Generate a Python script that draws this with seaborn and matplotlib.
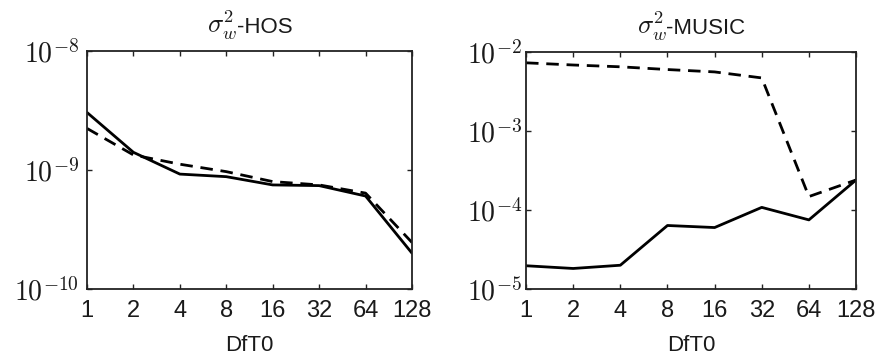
import numpy as np
import pandas as pd
import matplotlib
matplotlib.use("Agg")
import matplotlib.pyplot as plt
import matplotlib.ticker as mticker
from matplotlib.offsetbox import TextArea, HPacker, AnchoredOffsetbox
import seaborn as sns

dft0 = [1, 2, 4, 8, 16, 32, 64, 128]
hos_solid = [3.05e-9, 1.41e-9, 9.25e-10, 8.8e-10, 7.5e-10, 7.4e-10, 6.05e-10, 2.0e-10]
hos_dashed = [2.24e-9, 1.34e-9, 1.12e-9, 9.7e-10, 8.0e-10, 7.5e-10, 6.4e-10, 2.46e-10]
music_solid = [1.97e-5, 1.82e-5, 2.0e-5, 6.37e-5, 6.0e-5, 1.08e-4, 7.5e-5, 2.4e-4]
music_dashed = [7.3e-3, 6.85e-3, 6.5e-3, 6.0e-3, 5.6e-3, 4.7e-3, 1.48e-4, 2.4e-4]
title_math = r"$\sigma_w^2$"
title_names = ["-HOS", "-MUSIC"]
xlabel = "DfT0"

sns.set_style("ticks")
plt.rcParams["font.family"] = ["Liberation Sans", "DejaVu Sans"]
plt.rcParams["mathtext.fontset"] = "cm"

fig = plt.figure(figsize=(8.77, 3.61), dpi=100)
ax1 = fig.add_axes([0.0992, 0.1994, 0.3706, 0.659])
ax2 = fig.add_axes([0.5998, 0.1994, 0.3763, 0.6565])

def make_df(solid, dashed):
    return pd.DataFrame({
        "x": dft0 * 2,
        "y": list(solid) + list(dashed),
        "series": ["solid"] * len(dft0) + ["dashed"] * len(dft0),
    })

def pow_fmt(v, p):
    e = int(round(np.log10(v)))
    return r"$10^{%d}$" % e

panels = [
    (ax1, make_df(hos_solid, hos_dashed), (1e-10, 1e-8), [1e-10, 1e-9, 1e-8], 6),
    (ax2, make_df(music_solid, music_dashed), (1e-5, 1e-2), [1e-5, 1e-4, 1e-3, 1e-2], 3),
]

for (ax, df, ylim, yticks, ypad), name in zip(panels, title_names):
    sns.lineplot(data=df, x="x", y="y", hue="series", style="series",
                 palette={"solid": "black", "dashed": "black"},
                 dashes={"solid": "", "dashed": (4.5, 2.8)},
                 linewidth=2.0, legend=False, ax=ax)
    ax.set_xscale("log", base=2)
    ax.set_yscale("log")
    ax.set_xlim(1, 128)
    ax.set_ylim(*ylim)
    ax.set_xticks(dft0)
    ax.xaxis.set_major_formatter(mticker.FuncFormatter(lambda v, p: f"{int(round(v))}"))
    ax.xaxis.set_minor_locator(mticker.NullLocator())
    ax.set_yticks(yticks)
    ax.yaxis.set_major_formatter(mticker.FuncFormatter(pow_fmt))
    ax.yaxis.set_minor_locator(mticker.NullLocator())
    ax.tick_params(direction="in", length=3.5, width=1, top=True, right=True,
                   color="#222222", labelcolor="#1a1a1a")
    ax.tick_params(axis="x", labelsize=17, pad=8)
    ax.tick_params(axis="y", labelsize=20, pad=ypad)
    for s in ax.spines.values():
        s.set_visible(True)
        s.set_linewidth(1.3)
        s.set_color("#222222")
    ax.set_xlabel(xlabel, fontsize=16, labelpad=9, color="#1a1a1a")
    ax.set_ylabel("")
    ax.set_title("")
    # title: larger math symbol followed by sans text
    t1 = TextArea(title_math, textprops=dict(size=19, color="#1a1a1a"))
    t2 = TextArea(name, textprops=dict(size=16, color="#1a1a1a"))
    box = HPacker(children=[t1, t2], align="baseline", pad=0, sep=0)
    off = 9 / (ax.get_position().height * 361)
    anchored = AnchoredOffsetbox(loc="lower center", child=box, pad=0,
                                 borderpad=0, frameon=False,
                                 bbox_to_anchor=(0.5, 1.0 + off),
                                 bbox_transform=ax.transAxes)
    ax.add_artist(anchored)

fig.savefig("out.png", dpi=100)
